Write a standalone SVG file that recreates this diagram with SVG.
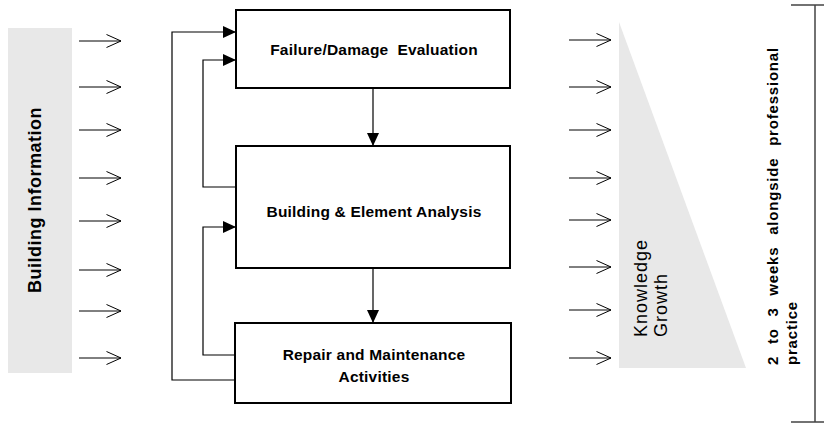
<svg xmlns="http://www.w3.org/2000/svg" width="824" height="424" viewBox="0 0 824 424">
<defs>
<marker id="fill" markerUnits="userSpaceOnUse" markerWidth="14" markerHeight="13" refX="13" refY="6" orient="auto">
<path d="M0,0 L13,6 L0,12 z" fill="#000"/>
</marker>
<marker id="open" markerUnits="userSpaceOnUse" markerWidth="17" markerHeight="16" refX="15.5" refY="7.5" orient="auto">
<path d="M1,1 L15.5,7.5 L1,14" fill="none" stroke="#000" stroke-width="1"/>
</marker>
</defs>
<style>
.box{fill:#fff;stroke:#000;stroke-width:2}
.bt{font-family:"Liberation Sans",Arial,sans-serif;font-weight:bold;font-size:15.5px;letter-spacing:0.2px;text-anchor:middle;fill:#000}
.ln{stroke:#000;stroke-width:1.2;fill:none}
.ia{stroke:#000;stroke-width:1;marker-end:url(#open)}
.grey{fill:#e8e8e8}
</style>
<rect width="824" height="424" fill="#fff"/>

<g id="building-information">
<rect class="grey" x="8" y="28" width="64" height="345"/>
<text transform="translate(41,200) rotate(-90)" font-family="Liberation Sans, Arial, sans-serif" font-weight="bold" font-size="18" letter-spacing="0.5" text-anchor="middle">Building Information</text>
</g>

<g id="knowledge-growth">
<polygon class="grey" points="619,22 619,368 746,368"/>
<text transform="translate(647,337) rotate(-90)" font-family="Liberation Sans, Arial, sans-serif" font-size="18" letter-spacing="1">Knowledge</text>
<text transform="translate(667,337) rotate(-90)" font-family="Liberation Sans, Arial, sans-serif" font-size="18" letter-spacing="1">Growth</text>
</g>

<g id="duration">
<path d="M815,5 V422 M791,5 H824 M791,422 H824" stroke="#444" stroke-width="1.5" fill="none"/>
<text transform="translate(778,365) rotate(-90)" font-family="Liberation Sans, Arial, sans-serif" font-weight="bold" font-size="15" letter-spacing="0.8" word-spacing="6.8">2 to 3 weeks alongside professional</text>
<text transform="translate(797,365) rotate(-90)" font-family="Liberation Sans, Arial, sans-serif" font-weight="bold" font-size="15" letter-spacing="0.8">practice</text>
</g>

<g id="failure-evaluation">
<rect class="box" x="236" y="10" width="274" height="78"/>
<text class="bt" x="374" y="55" xml:space="preserve">Failure/Damage  Evaluation</text>
</g>

<g id="element-analysis">
<rect class="box" x="236" y="146" width="274" height="122"/>
<text class="bt" x="374" y="217">Building &amp; Element Analysis</text>
</g>

<g id="repair-maintenance">
<rect class="box" x="235" y="323" width="276" height="80"/>
<text class="bt" x="374" y="360">Repair and Maintenance</text>
<text class="bt" x="374" y="382">Activities</text>
</g>

<g id="connectors">
<path class="ln" d="M236,380 H172 V32 H236" marker-end="url(#fill)"/>
<path class="ln" d="M236,187 H203 V60 H236" marker-end="url(#fill)"/>
<path class="ln" d="M235,355 H203 V227 H236" marker-end="url(#fill)"/>
<path class="ln" d="M373,88 V146" marker-end="url(#fill)"/>
<path class="ln" d="M373,268 V323" marker-end="url(#fill)"/>

<line class="ia" x1="79" y1="41" x2="121" y2="41"/>
<line class="ia" x1="79" y1="87" x2="121" y2="87"/>
<line class="ia" x1="79" y1="130" x2="121" y2="130"/>
<line class="ia" x1="79" y1="178" x2="121" y2="178"/>
<line class="ia" x1="79" y1="221" x2="121" y2="221"/>
<line class="ia" x1="79" y1="270" x2="121" y2="270"/>
<line class="ia" x1="79" y1="311" x2="121" y2="311"/>
<line class="ia" x1="79" y1="358" x2="121" y2="358"/>

<line class="ia" x1="569" y1="40" x2="611" y2="40"/>
<line class="ia" x1="569" y1="87" x2="611" y2="87"/>
<line class="ia" x1="569" y1="130" x2="611" y2="130"/>
<line class="ia" x1="569" y1="178" x2="611" y2="178"/>
<line class="ia" x1="569" y1="220" x2="611" y2="220"/>
<line class="ia" x1="569" y1="267" x2="611" y2="267"/>
<line class="ia" x1="569" y1="310" x2="611" y2="310"/>
<line class="ia" x1="569" y1="358" x2="611" y2="358"/>
</g>
</svg>
